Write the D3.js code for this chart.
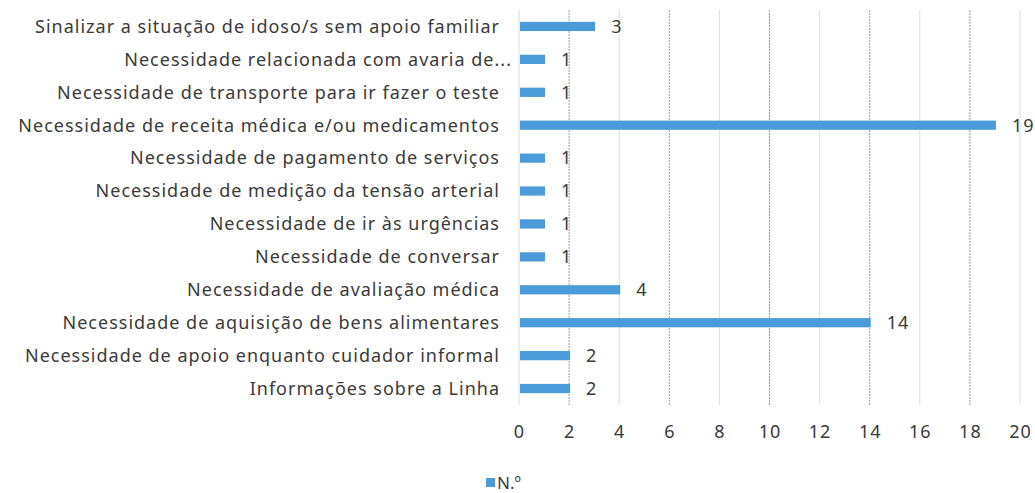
<!DOCTYPE html>
<html>
<head>
<meta charset="utf-8">
<script src="https://cdn.jsdelivr.net/npm/d3@7"></script>
<style>
  body { margin: 0; background: #fff; }
  text { font-family: "Noto Sans", "Open Sans", sans-serif; fill: #3a3a3a; }
</style>
</head>
<body>
<div id="chart"></div>
<script>
"use strict";

// data, top to bottom as in the picture
const categories = [
  "Sinalizar a situação de idoso/s sem apoio familiar",
  "Necessidade relacionada com avaria de...",
  "Necessidade de transporte para ir fazer o teste",
  "Necessidade de receita médica e/ou medicamentos",
  "Necessidade de pagamento de serviços",
  "Necessidade de medição da tensão arterial",
  "Necessidade de ir às urgências",
  "Necessidade de conversar",
  "Necessidade de avaliação médica",
  "Necessidade de aquisição de bens alimentares",
  "Necessidade de apoio enquanto cuidador informal",
  "Informações sobre a Linha"
];
const values = [3, 1, 1, 19, 1, 1, 1, 1, 4, 14, 2, 2];
const xTicks = [0, 2, 4, 6, 8, 10, 12, 14, 16, 18, 20];
const seriesName = "N.º";

var width = 1035;
var height = 493;
var margin = {top: 10, right: 15, bottom: 88, left: 519};

const svg = d3.select("#chart")
  .append("svg")
  .attr("width", width)
  .attr("height", height);

const x = d3.scaleLinear()
  .domain([0, 20])
  .range([margin.left, width - margin.right]);

const y = d3.scaleBand()
  .domain(categories)
  .range([margin.top, height - margin.bottom])
  .paddingInner(0.72)
  .paddingOuter(0.36);

// vertical gridlines (scan makes some look darker/dotted)
svg.append("g")
  .selectAll("line")
  .data(xTicks)
  .join("line")
    .attr("x1", d => x(d))
    .attr("x2", d => x(d))
    .attr("y1", margin.top)
    .attr("y2", height - margin.bottom)
    .attr("stroke", (d, i) => i % 2 ? "#9a9a9a" : "#dcdcdc")
    .attr("stroke-width", 1)
    .attr("stroke-dasharray", (d, i) => i % 2 ? "2,1" : null);

// bars
svg.append("g")
  .selectAll("rect")
  .data(values)
  .join("rect")
    .attr("x", x(0) + 1)
    .attr("y", (d, i) => y(categories[i]))
    .attr("width", d => x(d) - x(0))
    .attr("height", y.bandwidth())
    .attr("fill", "#4a9bd8");

// value labels
svg.append("g")
  .selectAll("text")
  .data(values)
  .join("text")
    .attr("x", d => x(d) + 17)
    .attr("y", (d, i) => y(categories[i]) + y.bandwidth() / 2)
    .attr("dy", "0.35em")
    .style("font-size", "18px")
    .style("letter-spacing", "1px")
    .text(d => d);

// category labels
svg.append("g")
  .selectAll("text")
  .data(categories)
  .join("text")
    .attr("x", (d, i) => i === 1 ? 512 : 500)
    .attr("y", d => y(d) + y.bandwidth() / 2)
    .attr("dy", "0.35em")
    .attr("text-anchor", "end")
    .style("font-size", "18px")
    .style("letter-spacing", "1px")
    .text(d => d);

// x axis labels
const xAxis = d3.axisBottom(x).tickValues(xTicks).tickSize(0).tickPadding(0);
svg.append("g")
  .attr("transform", `translate(0, ${height - margin.bottom + 20})`)
  .call(xAxis)
  .call(g => g.select(".domain").remove())
  .call(g => g.selectAll("text")
    .style("font-size", "18px")
    .style("letter-spacing", "1px")
    .style("font-family", "\"Noto Sans\", sans-serif")
    .attr("fill", "#3a3a3a"));

// legend
const legend = svg.append("g").attr("transform", "translate(486, 478)");
legend.append("rect")
  .attr("width", 9)
  .attr("height", 9)
  .attr("y", 0)
  .attr("fill", "#4a9bd8");
legend.append("text")
  .attr("x", 11)
  .attr("y", 5)
  .attr("dy", "0.35em")
  .style("font-size", "17px")
  .text(seriesName);
</script>
</body>
</html>
